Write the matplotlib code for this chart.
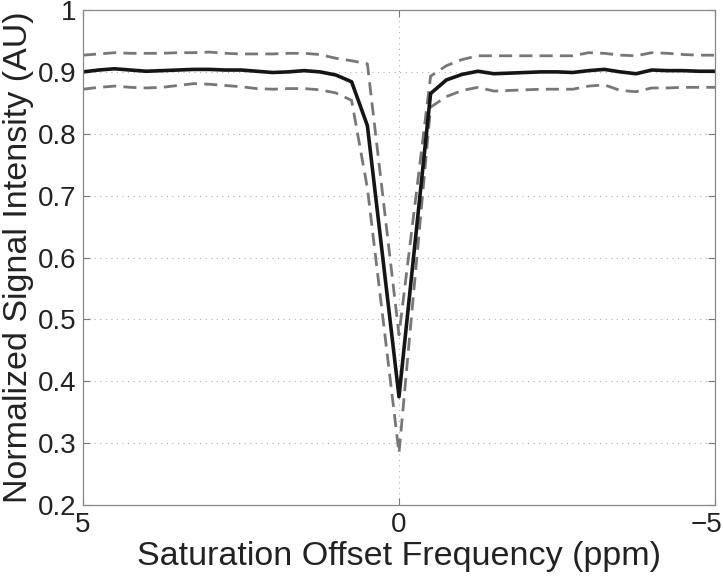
import numpy as np
import matplotlib
matplotlib.use('Agg')
import matplotlib.pyplot as plt
from matplotlib.transforms import ScaledTranslation

# Saturation offsets (ppm) and the read-off signal levels
ppm = [5, 4.75, 4.5, 4.25, 4, 3.75, 3.5, 3.25, 3, 2.75, 2.5, 2.25, 2, 1.75, 1.5,
       1.25, 1, 0.75, 0.5, 0, -0.5, -0.75, -1, -1.25, -1.5, -1.75, -2, -2.25,
       -2.5, -2.75, -3, -3.25, -3.5, -3.75, -4, -4.25, -4.5, -4.75, -5]

mean_signal = [0.900, 0.903, 0.905, 0.903, 0.901, 0.902, 0.903, 0.904, 0.904,
               0.903, 0.903, 0.901, 0.899, 0.900, 0.902, 0.900, 0.895, 0.884,
               0.813, 0.375, 0.865, 0.887, 0.896, 0.901, 0.897, 0.898, 0.899,
               0.900, 0.900, 0.899, 0.902, 0.904, 0.900, 0.897, 0.903, 0.902,
               0.902, 0.901, 0.901]

upper_signal = [0.927, 0.929, 0.931, 0.930, 0.930, 0.930, 0.931, 0.931, 0.932,
                0.930, 0.929, 0.929, 0.929, 0.930, 0.930, 0.928, 0.922, 0.918,
                0.913, 0.475, 0.893, 0.910, 0.920, 0.926, 0.926, 0.926, 0.926,
                0.926, 0.926, 0.926, 0.931, 0.930, 0.927, 0.926, 0.931, 0.930,
                0.928, 0.927, 0.927]

lower_signal = [0.872, 0.875, 0.877, 0.875, 0.874, 0.875, 0.878, 0.881, 0.880,
                0.878, 0.876, 0.873, 0.872, 0.873, 0.873, 0.871, 0.866, 0.854,
                0.712, 0.284, 0.843, 0.860, 0.870, 0.875, 0.869, 0.870, 0.871,
                0.872, 0.872, 0.872, 0.877, 0.879, 0.870, 0.868, 0.874, 0.874,
                0.875, 0.875, 0.875]

x_ticks = [5, 0, -5]
x_tick_labels = ['5', '0', '\u22125']
y_ticks = [0.2, 0.3, 0.4, 0.5, 0.6, 0.7, 0.8, 0.9, 1.0]
y_tick_labels = ['0.2', '0.3', '0.4', '0.5', '0.6', '0.7', '0.8', '0.9', '1']

plt.rcParams['font.family'] = ['Liberation Sans', 'DejaVu Sans']

fig = plt.figure(figsize=(7.23, 5.76), dpi=100)
ax = fig.add_axes([83 / 723, 71 / 576, 632 / 723, 495 / 576])

grid_kw = dict(color='#b0b0b0', linestyle=(0, (1, 4)), linewidth=0.8, zorder=0)
for yv in y_ticks[1:-1]:
    ax.axhline(yv, **grid_kw)
ax.axvline(0, **grid_kw)

dash_kw = dict(color='#777777', linewidth=2.0, linestyle=(0, (4.7, 2.6)))
ax.plot(ppm, upper_signal, **dash_kw)
ax.plot(ppm, lower_signal, **dash_kw)
ax.plot(ppm, mean_signal, color='#151515', linewidth=2.6)

ax.set_xlim(5, -5)
ax.set_ylim(0.2, 1.0)
ax.set_xticks(x_ticks)
ax.set_xticklabels(x_tick_labels)
ax.set_yticks(y_ticks)
ax.set_yticklabels(y_tick_labels)

ax.tick_params(direction='in', length=5, width=0.8, colors='#777777',
               labelcolor='#222222', labelsize=20, top=True, right=True)
ax.tick_params(axis='y', pad=4.5)
ax.tick_params(axis='x', pad=5)
# keep the right-most tick label inside the figure
last = ax.get_xticklabels()[-1]
last.set_transform(last.get_transform() + ScaledTranslation(-0.08, 0, fig.dpi_scale_trans))

for s in ax.spines.values():
    s.set_color('#888888')
    s.set_linewidth(0.9)

ax.set_xlabel('Saturation Offset Frequency (ppm)', fontsize=24.5, color='#222222', labelpad=2)
ax.set_ylabel('Normalized Signal Intensity (AU)', fontsize=24.5, color='#222222', labelpad=3)

fig.savefig('out.png', dpi=100)
